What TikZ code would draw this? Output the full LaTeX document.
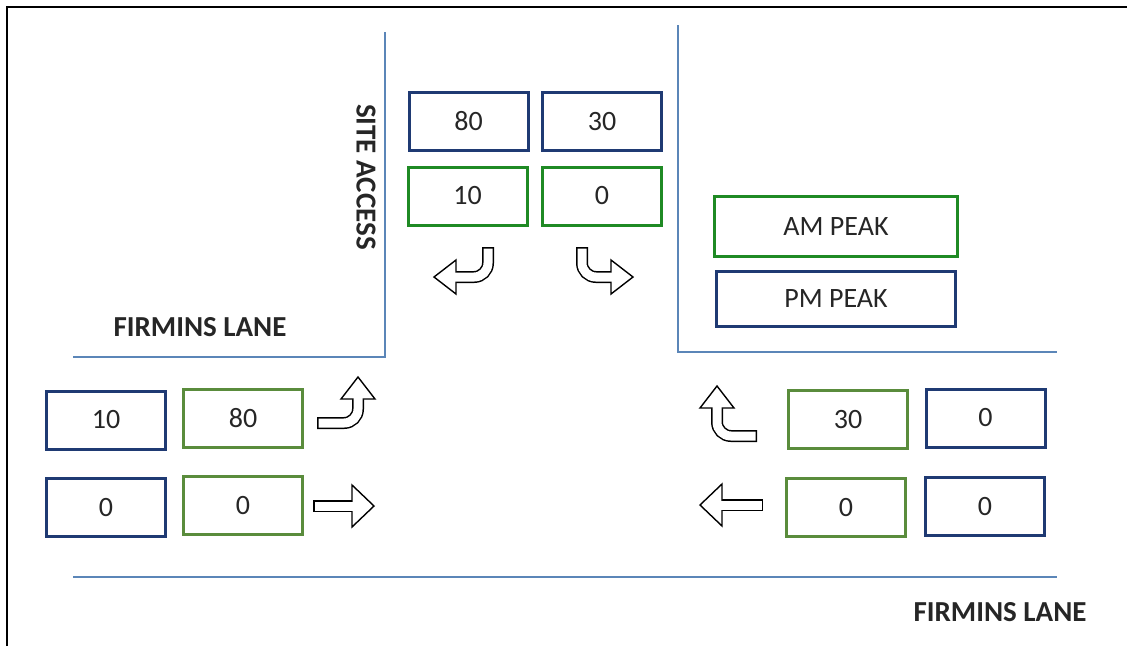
\documentclass[tikz,border=0pt]{standalone}
\usepackage{fontspec}
\setmainfont{Carlito}
\usepackage{xcolor}
\usepackage{tikz}
\usetikzlibrary{calc}
\definecolor{roadblue}{HTML}{5B86B8}
\definecolor{pmnavy}{HTML}{1F3A73}
\definecolor{amgreen}{HTML}{1F8A24}
\definecolor{amolive}{HTML}{5A8C3C}
\definecolor{txtgray}{HTML}{262626}

% block arrow: shaft path, head base, direction, half width of head
\newcommand\blockarrow[4]{%
	\draw[line width=12pt, line cap=rect, rounded corners=14pt] #1;
	\draw[fill=white, line width=1.4pt, line join=miter] ($#2+(#3+90:#4pt)$) -- ($#2+(#3:22pt)$) -- ($#2+(#3-90:#4pt)$) -- cycle;
	\draw[white, line width=9pt, line cap=rect, rounded corners=14pt] #1;
}

\begin{document}
\begin{tikzpicture}[x=1pt, y=-1pt,
	pmbox/.style={draw=pmnavy, line width=3pt, minimum width=119pt, minimum height=58pt, text=txtgray, font=\fontsize{28}{32}\selectfont},
	ambox/.style={pmbox, draw=amgreen},
	olbox/.style={pmbox, draw=amolive},
	road/.style={draw=roadblue, line width=1.5pt},
	roadname/.style={text=txtgray, font=\fontsize{29}{32}\selectfont\bfseries}]
	\useasboundingbox (0,0) rectangle (1127,646);
	\draw[line width=2.5pt] (7,646) -- (7,7) -- (1127,7);
	% roads
	\draw[road] (73,357) -- (385,357) -- (385,32);
	\draw[road] (678,25) -- (678,352) -- (1057,352);
	\draw[road] (73,577) -- (1057,577);
	\node[roadname] (laneW) at (200,327) {FIRMINS LANE};
	\node[roadname] (laneE) at (1000,612) {FIRMINS LANE};
	\node[roadname, rotate=-90] (access) at (366,177) {SITE ACCESS};
	% site access
	\node[pmbox] (accLpm) at (468.5,121.5) {80};
	\node[pmbox] (accRpm) at (602,121.5) {30};
	\node[ambox] (accLam) at (467.5,196) {10};
	\node[ambox] (accRam) at (602,196) {0};
	% legend
	\node[ambox, minimum width=243pt, minimum height=60pt] (keyAM) at (836,226.5) {AM PEAK};
	\node[pmbox, minimum width=239pt, minimum height=55pt] (keyPM) at (836,299) {PM PEAK};
	% west approach
	\node[pmbox] (westTpm) at (106,420) {10};
	\node[olbox] (westTam) at (243,418) {80};
	\node[pmbox] (westSpm) at (106,507.5) {0};
	\node[olbox] (westSam) at (243,505.5) {0};
	% east approach
	\node[olbox] (eastTam) at (848,419.5) {30};
	\node[pmbox] (eastTpm) at (985.5,418) {0};
	\node[olbox] (eastSam) at (846,507.5) {0};
	\node[pmbox] (eastSpm) at (985,506.5) {0};
	% turning arrows
	\blockarrow{(323,423) -| (358,399)}{(358,399)}{90}{17}
	\blockarrow{(319,506) -- (352,506)}{(352,506)}{0}{21}
	\blockarrow{(488,253) |- (456,277)}{(456,277)}{180}{17}
	\blockarrow{(582,253) |- (611,277)}{(611,277)}{0}{17}
	\blockarrow{(751,436) -| (717,408)}{(717,408)}{90}{17}
	\blockarrow{(757,505) -- (722,505)}{(722,505)}{180}{21}
\end{tikzpicture}
\end{document}
